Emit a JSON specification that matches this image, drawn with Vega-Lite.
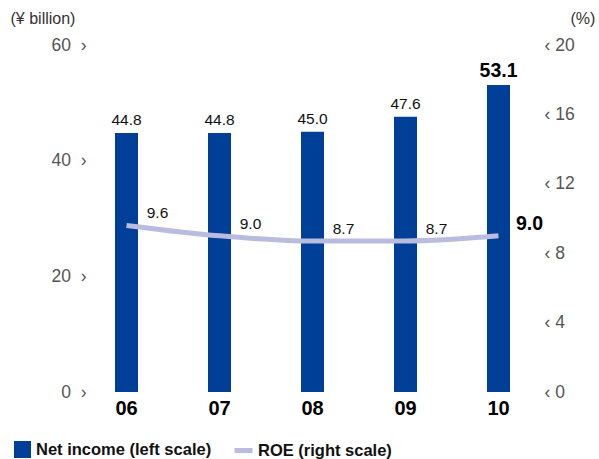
{
  "$schema": "https://vega.github.io/schema/vega-lite/v6.json",
  "autosize": "none",
  "width": 465,
  "height": 347,
  "padding": {"left": 80, "top": 45, "right": 54, "bottom": 67},
  "background": "white",
  "config": {
    "view": {"stroke": null},
    "font": "Liberation Sans",
    "text": {"font": "Liberation Sans"}
  },
  "data": {
    "values": [
      {"year": "06", "net_income": 44.8, "roe": 9.6},
      {"year": "07", "net_income": 44.8, "roe": 9.0},
      {"year": "08", "net_income": 45.0, "roe": 8.7},
      {"year": "09", "net_income": 47.6, "roe": 8.7},
      {"year": "10", "net_income": 53.1, "roe": 9.0}
    ]
  },
  "encoding": {
    "x": {
      "field": "year",
      "type": "ordinal",
      "scale": {"paddingInner": 0, "paddingOuter": 0},
      "axis": {
        "title": null,
        "domain": false,
        "ticks": false,
        "labelAngle": 0,
        "labelFontSize": 20,
        "labelFontWeight": "bold",
        "labelColor": "#000000",
        "labelPadding": 6
      }
    }
  },
  "layer": [
    {
      "layer": [
        {
          "mark": {"type": "bar", "width": 23},
          "encoding": {
            "y": {
              "field": "net_income",
              "type": "quantitative",
              "scale": {"domain": [0, 60]},
              "axis": {
                "orient": "left",
                "values": [0, 20, 40, 60],
                "labelExpr": "datum.label + '\u00a0\u00a0›'",
                "labelFontSize": 17.5,
                "labelColor": "#555555",
                "labelPadding": -6,
                "domain": false,
                "ticks": false,
                "grid": false,
                "title": "(¥ billion)",
                "titleAngle": 0,
                "titleFontSize": 16,
                "titleFontWeight": "normal",
                "titleColor": "#333333",
                "titleAlign": "left",
                "titleBaseline": "middle",
                "titleX": -70,
                "titleY": -27
              }
            },
            "fill": {
              "datum": "Net income (left scale)",
              "type": "nominal",
              "scale": {"domain": ["Net income (left scale)"], "range": ["#003f98"]},
              "legend": {
                "title": null,
                "orient": "none",
                "legendX": -66,
                "legendY": 396,
                "symbolType": "square",
                "symbolSize": 289,
                "symbolStrokeWidth": 0,
                "labelFontSize": 16.5,
                "labelFontWeight": "bold",
                "labelColor": "#111111",
                "labelOffset": 5,
                "labelLimit": 300
              }
            }
          }
        },
        {
          "transform": [{"filter": "datum.year != '10'"}],
          "mark": {"type": "text", "baseline": "bottom", "dy": -5, "fontSize": 15.5, "color": "#111111"},
          "encoding": {
            "y": {"field": "net_income", "type": "quantitative", "scale": {"domain": [0, 60]}},
            "text": {"field": "net_income", "type": "quantitative", "format": ".1f"}
          }
        },
        {
          "transform": [{"filter": "datum.year == '10'"}],
          "mark": {"type": "text", "baseline": "bottom", "dy": -4, "fontSize": 19.5, "fontWeight": "bold", "color": "#000000"},
          "encoding": {
            "y": {"field": "net_income", "type": "quantitative", "scale": {"domain": [0, 60]}},
            "text": {"field": "net_income", "type": "quantitative", "format": ".1f"}
          }
        }
      ]
    },
    {
      "layer": [
        {
          "mark": {"type": "line", "interpolate": "monotone", "strokeWidth": 5},
          "encoding": {
            "y": {
              "field": "roe",
              "type": "quantitative",
              "scale": {"domain": [0, 20]},
              "axis": {
                "orient": "right",
                "values": [0, 4, 8, 12, 16, 20],
                "labelExpr": "'‹\u00a0' + datum.label",
                "labelFontSize": 17.5,
                "labelColor": "#555555",
                "labelPadding": -1,
                "domain": false,
                "ticks": false,
                "grid": false,
                "title": "(%)",
                "titleAngle": 0,
                "titleFontSize": 16,
                "titleFontWeight": "normal",
                "titleColor": "#333333",
                "titleAlign": "left",
                "titleBaseline": "middle",
                "titleX": 25,
                "titleY": -27
              }
            },
            "stroke": {
              "datum": "ROE (right scale)",
              "type": "nominal",
              "scale": {"domain": ["ROE (right scale)"], "range": ["#b9bcdf"]},
              "legend": {
                "title": null,
                "orient": "none",
                "legendX": 152,
                "legendY": 394,
                "symbolType": "stroke",
                "symbolSize": 324,
                "symbolStrokeWidth": 5,
                "labelFontSize": 16.5,
                "labelFontWeight": "bold",
                "labelColor": "#111111",
                "labelOffset": 3,
                "labelLimit": 300
              }
            }
          }
        },
        {
          "transform": [{"filter": "datum.year != '10'"}],
          "mark": {"type": "text", "align": "center", "baseline": "bottom", "dx": 31, "dy": -4, "fontSize": 15.5, "color": "#111111"},
          "encoding": {
            "y": {"field": "roe", "type": "quantitative", "scale": {"domain": [0, 20]}},
            "text": {"field": "roe", "type": "quantitative", "format": ".1f"}
          }
        },
        {
          "transform": [{"filter": "datum.year == '10'"}],
          "mark": {"type": "text", "align": "center", "baseline": "bottom", "dx": 31, "dy": -2, "fontSize": 19.5, "fontWeight": "bold", "color": "#000000"},
          "encoding": {
            "y": {"field": "roe", "type": "quantitative", "scale": {"domain": [0, 20]}},
            "text": {"field": "roe", "type": "quantitative", "format": ".1f"}
          }
        }
      ]
    }
  ],
  "resolve": {"scale": {"y": "independent"}}
}
